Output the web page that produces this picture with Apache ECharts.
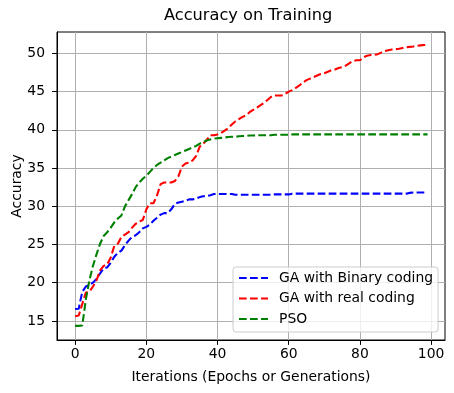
<!DOCTYPE html>
<html>
<head>
<meta charset="utf-8">
<script src="https://cdn.jsdelivr.net/npm/echarts@6/dist/echarts.min.js"></script>
<style>
  html, body { margin: 0; padding: 0; background: #fff; }
  #main { width: 454px; height: 393px; }
</style>
</head>
<body>
<div id="main"></div>
<script>
// iterations 0..99
var epochs = Array.from({ length: 100 }, function (_, i) { return i; });

var gaBinary = [
  16.55, 16.6, 18.8, 19.5, 19.7, 20.0, 20.5, 21.2, 21.9, 22.0,
  22.6, 23.4, 23.9, 24.2, 24.9, 25.5, 26.0, 26.2, 26.6, 27.1,
  27.3, 27.6, 28.1, 28.5, 28.9, 29.1, 29.1, 29.6, 30.3, 30.5,
  30.6, 30.7, 30.9, 30.9, 31.0, 31.2, 31.3, 31.35, 31.45, 31.6,
  31.6, 31.6, 31.6, 31.6, 31.6, 31.5, 31.5, 31.5, 31.5, 31.5,
  31.5, 31.5, 31.5, 31.5, 31.5, 31.5, 31.55, 31.55, 31.55, 31.55,
  31.55, 31.65, 31.65, 31.65, 31.65, 31.65, 31.65, 31.65, 31.65, 31.65,
  31.65, 31.65, 31.65, 31.65, 31.65, 31.65, 31.65, 31.65, 31.65, 31.65,
  31.65, 31.65, 31.65, 31.65, 31.65, 31.65, 31.65, 31.65, 31.65, 31.65,
  31.65, 31.65, 31.65, 31.65, 31.75, 31.8, 31.8, 31.8, 31.8, 31.8
];

var gaReal = [
  15.6, 15.7, 17.2, 18.7, 18.8, 19.5, 20.3, 21.6, 22.2, 22.4,
  23.3, 24.8, 25.1, 26.0, 26.3, 26.6, 27.2, 27.7, 28.0, 28.2,
  29.6, 30.4, 30.4, 31.4, 32.9, 33.1, 33.1, 33.1, 33.3, 33.9,
  35.2, 35.6, 35.7, 36.0, 36.6, 37.8, 38.2, 38.7, 39.3, 39.3,
  39.4, 39.6, 39.9, 40.2, 40.7, 41.1, 41.4, 41.7, 41.9, 42.3,
  42.6, 42.9, 43.2, 43.5, 43.9, 44.3, 44.5, 44.5, 44.5, 44.7,
  45.0, 45.2, 45.5, 45.8, 46.2, 46.5, 46.7, 46.9, 47.1, 47.3,
  47.4, 47.6, 47.8, 47.9, 48.1, 48.2, 48.4, 48.7, 49.0, 49.1,
  49.1, 49.5, 49.7, 49.8, 49.8, 49.9, 50.1, 50.3, 50.4, 50.5,
  50.55, 50.6, 50.7, 50.8, 50.85, 50.9, 51.0, 51.05, 51.1, 51.1
];

var pso = [
  14.35, 14.35, 14.4, 17.8, 20.3, 22.2, 23.7, 25.1, 26.1, 26.6,
  27.2, 27.9, 28.4, 28.8, 30.0, 30.8, 31.6, 32.5, 33.1, 33.6,
  34.0, 34.5, 35.0, 35.4, 35.7, 36.0, 36.3, 36.5, 36.7, 36.9,
  37.1, 37.3, 37.5, 37.7, 37.9, 38.2, 38.4, 38.6, 38.75, 38.85,
  38.9, 38.95, 39.0, 39.05, 39.1, 39.1, 39.15, 39.2, 39.2, 39.25,
  39.25, 39.3, 39.3, 39.3, 39.3, 39.3, 39.35, 39.35, 39.35, 39.35,
  39.35, 39.4, 39.4, 39.4, 39.4, 39.4, 39.4, 39.4, 39.4, 39.4,
  39.4, 39.4, 39.4, 39.4, 39.4, 39.4, 39.4, 39.4, 39.4, 39.4,
  39.4, 39.4, 39.4, 39.4, 39.4, 39.4, 39.4, 39.4, 39.4, 39.4,
  39.4, 39.4, 39.4, 39.4, 39.4, 39.4, 39.4, 39.4, 39.4, 39.4
];

var xTicks = [0, 20, 40, 60, 80, 100];
var yTicks = [15, 20, 25, 30, 35, 40, 45, 50];

var FONT = 'DejaVu Sans';

function pairs(vals) {
  return epochs.map(function (x, i) { return [x, vals[i]]; });
}

function lineSeries(name, vals, color) {
  return {
    name: name,
    type: 'line',
    data: pairs(vals),
    symbol: 'none',
    animation: false,
    lineStyle: { color: color, width: 2.08, type: [7.7, 3.3], cap: 'butt' },
    itemStyle: { color: color }
  };
}

var myChart = echarts.init(document.getElementById('main'), null, { renderer: 'canvas' });

myChart.setOption({
  animation: false,
  backgroundColor: '#ffffff',
  title: {
    text: 'Accuracy on Training',
    left: 164,
    top: 8,
    padding: 0,
    textStyle: { fontFamily: FONT, fontSize: 16.2, fontWeight: 'normal', color: '#000' }
  },
  grid: {
    left: 57, right: 9, top: 32, bottom: 53,
    outerBoundsMode: 'none',
    containLabel: false,
    show: true, borderColor: '#000', borderWidth: 1, backgroundColor: 'transparent'
  },
  legend: {
    orient: 'vertical',
    left: 233, top: 267,
    padding: [4, 5, 6, 5],
    itemWidth: 29, itemHeight: 14, itemGap: 6.5,
    itemStyle: { opacity: 0 },
    backgroundColor: 'rgba(255,255,255,0.8)',
    borderColor: '#cccccc', borderWidth: 1, borderRadius: 3,
    textStyle: { fontFamily: FONT, fontSize: 13.9, color: '#000', padding: [0, 0, 0, 6] },
    data: ['GA with Binary coding', 'GA with real coding', 'PSO']
  },
  xAxis: {
    type: 'value',
    min: -5.1, max: 103.9,
    name: 'Iterations (Epochs or Generations)',
    nameLocation: 'middle',
    nameGap: 30,
    nameMoveOverlap: false,
    nameTextStyle: { fontFamily: FONT, fontSize: 13.9, color: '#000' },
    axisLine: { show: true, onZero: false, lineStyle: { color: '#000', width: 1 } },
    axisTick: { show: true, inside: false, length: 4.9, customValues: xTicks, lineStyle: { color: '#000', width: 1 } },
    axisLabel: { customValues: xTicks, margin: 7, fontFamily: FONT, fontSize: 13.9, color: '#000' },
    splitLine: { show: true, lineStyle: { color: '#b0b0b0', width: 1 } }
  },
  yAxis: {
    type: 'value',
    min: 12.5, max: 52.8,
    name: 'Accuracy',
    nameLocation: 'middle',
    nameRotate: 90,
    nameGap: 33,
    nameMoveOverlap: false,
    nameTextStyle: { fontFamily: FONT, fontSize: 13.9, color: '#000' },
    axisLine: { show: true, onZero: false, lineStyle: { color: '#000', width: 1 } },
    axisTick: { show: true, inside: false, length: 4.9, customValues: yTicks, lineStyle: { color: '#000', width: 1 } },
    axisLabel: { customValues: yTicks, margin: 12, fontFamily: FONT, fontSize: 13.9, color: '#000' },
    splitLine: { show: true, lineStyle: { color: '#b0b0b0', width: 1 } }
  },
  series: [
    lineSeries('GA with Binary coding', gaBinary, '#0000ff'),
    lineSeries('GA with real coding', gaReal, '#ff0000'),
    lineSeries('PSO', pso, '#008000')
  ]
});
</script>
</body>
</html>
